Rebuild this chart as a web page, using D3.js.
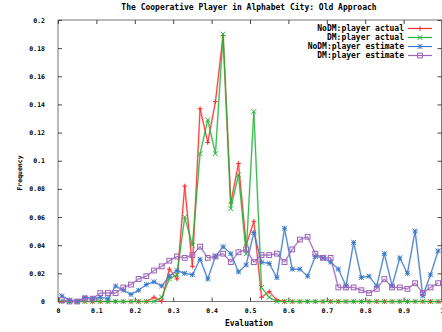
<!DOCTYPE html>
<html><head><meta charset="utf-8">
<script src="https://cdn.jsdelivr.net/npm/d3@7"></script>
<style>
html,body{margin:0;padding:0;background:#fff;}
svg{display:block;}
text{font-family:"DejaVu Sans Mono",monospace;font-weight:bold;fill:#000;}
</style></head>
<body>
<script>
const binCenters = d3.range(50).map(i => +(0.01 + 0.02 * i).toFixed(2));
const xTickValues = [0,0.1,0.2,0.3,0.4,0.5,0.6,0.7,0.8,0.9,1];
const xTickLabels = ["0","0.1","0.2","0.3","0.4","0.5","0.6","0.7","0.8","0.9","1"];
const yTickValues = [0,0.02,0.04,0.06,0.08,0.1,0.12,0.14,0.16,0.18,0.2];
const yTickLabels = ["0","0.02","0.04","0.06","0.08","0.1","0.12","0.14","0.16","0.18","0.2"];
const seriesNames = ["NoDM:player actual","DM:player actual","NoDM:player estimate","DM:player estimate"];
const noDMActual = [0,0,0,0,0,0,0,0,0,0,0,0,0.003,0,0.023,0.016,0.082,0.025,0.137,0.113,
  0.142,0.189,0.070,0.098,0.040,0.057,0.003,0.007,0.001,0,0,0,0,0,0,0,0,0,0,0,
  0,0,0,0,0,0,0,0,0,0];
const dmActual = [0,0,0,0,0,0,0,0,0,0,0,0,0,0.003,0.016,0.019,0.060,0.040,0.105,0.129,
  0.105,0.190,0.066,0.090,0.034,0.135,0.010,0.003,0,0,0,0,0,0,0,0,0,0,0,0,
  0,0,0,0,0,0,0,0,0,0];
const noDMEstimate = [0.004,0.001,0,0.003,0.002,0.003,0.002,0.011,0.008,0.005,0.008,0.012,0.014,0.011,0.018,0.022,0.020,0.019,0.030,0.016,
  0.032,0.039,0.034,0.021,0.026,0.049,0.028,0.027,0.017,0.052,0.023,0.023,0.018,0.032,0.031,0.028,0.023,0.011,0.042,0.017,
  0.018,0.011,0.034,0.011,0.031,0.020,0.050,0.004,0.019,0.036];
const dmEstimate = [0.001,0,0,0.002,0.002,0.006,0.006,0.006,0.010,0.012,0.016,0.018,0.022,0.025,0.029,0.032,0.031,0.033,0.039,0.031,
  0.032,0.034,0.028,0.035,0.037,0.028,0.033,0.033,0.034,0.028,0.037,0.044,0.046,0.034,0.031,0.031,0.010,0.010,0.010,0.008,
  0.006,0.009,0.016,0.010,0.010,0.009,0.013,0.006,0.010,0.013];
const seriesValues = [noDMActual, dmActual, noDMEstimate, dmEstimate];
const colors = ["#ff2a2a","#22b33a","#3a78c8","#9b62b8"];
const markers = ["plus","cross","star","square"];

const W = 442, H = 332;
const svg = d3.select("body").append("svg").attr("width", W).attr("height", H);
const pLeft = 58, pRight = 442, pTop = 20, pBottom = 301.5;
const x = d3.scaleLinear().domain([0,1]).range([pLeft, pRight]);
const y = d3.scaleLinear().domain([0,0.2]).range([pBottom, pTop]);

// title
svg.append("text").attr("x", 249).attr("y", 10).attr("text-anchor","middle")
  .style("font-size","8px").text("The Cooperative Player in Alphabet City: Old Approach");

// frame
svg.append("rect").attr("x", pLeft).attr("y", pTop).attr("width", pRight - pLeft - 0.5).attr("height", pBottom - pTop)
  .attr("fill","none").attr("stroke","#777").attr("stroke-width",1);

// axes
const tl = 4;
const xb = svg.append("g").attr("transform",`translate(0,${pBottom})`)
  .call(d3.axisBottom(x).tickValues(xTickValues).tickFormat((d,i)=>xTickLabels[i]).tickSizeInner(-tl).tickSizeOuter(0).tickPadding(7));
const xt = svg.append("g").attr("transform",`translate(0,${pTop})`)
  .call(d3.axisTop(x).tickValues(xTickValues).tickFormat("").tickSizeInner(-tl).tickSizeOuter(0));
const yl = svg.append("g").attr("transform",`translate(${pLeft},0)`)
  .call(d3.axisLeft(y).tickValues(yTickValues).tickFormat((d,i)=>yTickLabels[i]).tickSizeInner(-tl).tickSizeOuter(0).tickPadding(13));
const yr = svg.append("g").attr("transform",`translate(${pRight-0.5},0)`)
  .call(d3.axisRight(y).tickValues(yTickValues).tickFormat("").tickSizeInner(-tl).tickSizeOuter(0));
[xb,xt,yl,yr].forEach(g=>{
  g.select(".domain").remove();
  g.selectAll("line").attr("stroke","#444");
  g.selectAll("text").style("font-size","6.5px").style("font-family","'DejaVu Sans Mono',monospace").style("font-weight","bold").attr("fill","#000");
});

// axis labels
svg.append("text").attr("x", 249).attr("y", 326).attr("text-anchor","middle").style("font-size","8px").text("Evaluation");
svg.append("text").attr("transform","translate(22,173) rotate(-90)").attr("text-anchor","middle").style("font-size","6.5px").text("Frequency");

function drawMarker(g, type, cx, cy, color){
  const s = 2.4;
  if(type==="plus"||type==="star"){
    g.append("line").attr("x1",cx-s).attr("x2",cx+s).attr("y1",cy).attr("y2",cy).attr("stroke",color);
    g.append("line").attr("x1",cx).attr("x2",cx).attr("y1",cy-s).attr("y2",cy+s).attr("stroke",color);
  }
  if(type==="cross"||type==="star"){
    g.append("line").attr("x1",cx-s).attr("x2",cx+s).attr("y1",cy-s).attr("y2",cy+s).attr("stroke",color);
    g.append("line").attr("x1",cx-s).attr("x2",cx+s).attr("y1",cy+s).attr("y2",cy-s).attr("stroke",color);
  }
  if(type==="square"){
    g.append("rect").attr("x",cx-s).attr("y",cy-s).attr("width",2*s).attr("height",2*s).attr("fill","none").attr("stroke",color);
  }
}

const line = d3.line().x((d,i)=>x(binCenters[i])).y(d=>y(d));
seriesValues.forEach((vals, k)=>{
  const g = svg.append("g");
  g.append("path").datum(vals).attr("d", line).attr("fill","none").attr("stroke",colors[k]).attr("stroke-width",2).attr("stroke-opacity",0.3);
  g.append("path").datum(vals).attr("d", line).attr("fill","none").attr("stroke",colors[k]).attr("stroke-width",0.9);
  vals.forEach((v,i)=>drawMarker(g, markers[k], x(binCenters[i]), y(v), colors[k]));
});

// legend
seriesNames.forEach((name,k)=>{
  const ly = 28.5 + 9*k;
  svg.append("text").attr("x",404).attr("y",ly+2.5).attr("text-anchor","end").style("font-size","8px").text(name);
  svg.append("line").attr("x1",408).attr("x2",432).attr("y1",ly).attr("y2",ly).attr("stroke",colors[k]).attr("stroke-width",1.2);
  drawMarker(svg, markers[k], 420, ly, colors[k]);
});
</script>
</body></html>
